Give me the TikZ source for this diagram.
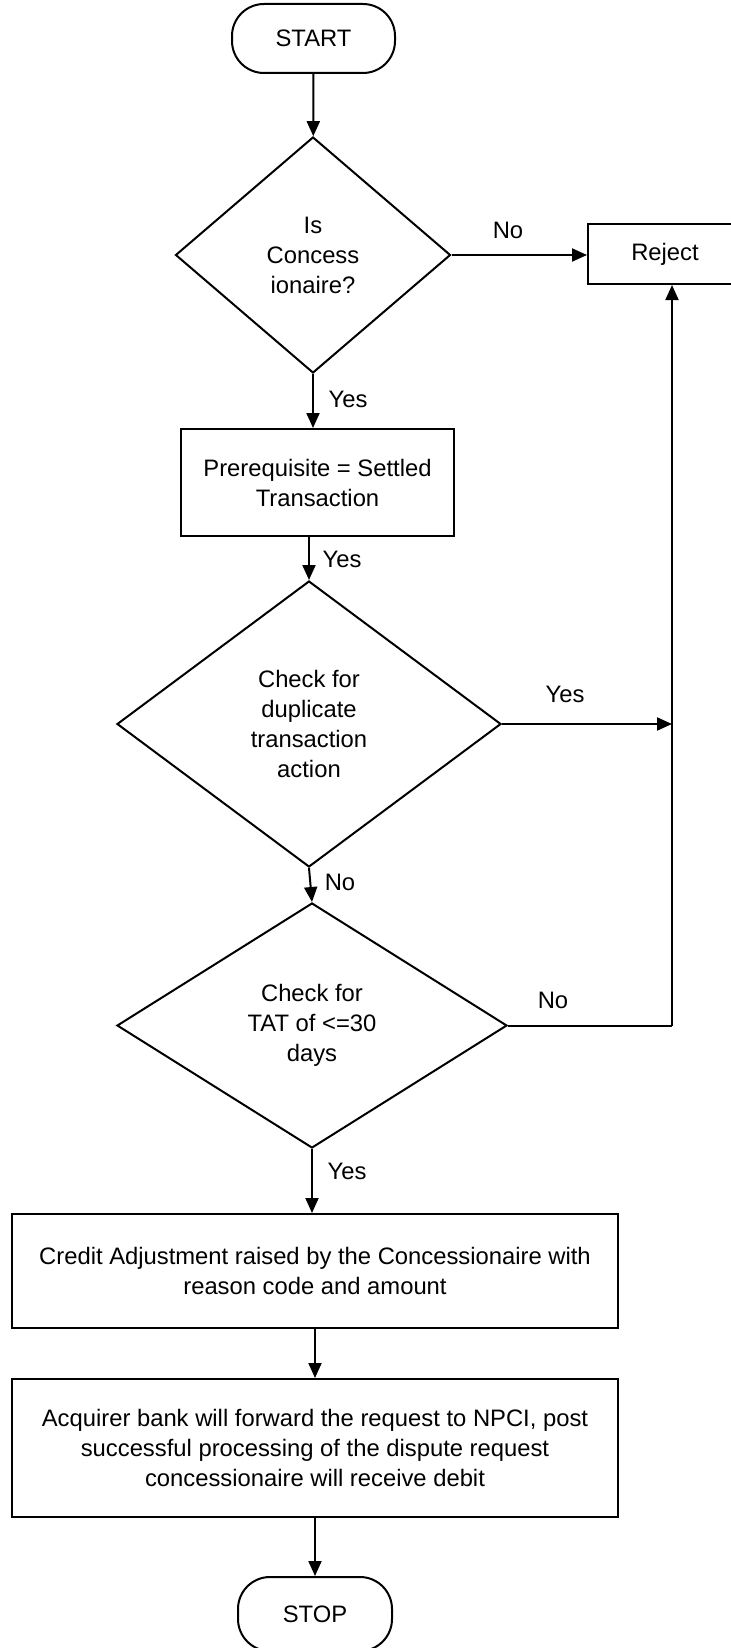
\documentclass[tikz,border=0pt]{standalone}
\usepackage{fontspec}
\setmainfont{Liberation Sans}
\usetikzlibrary{arrows.meta,shapes.geometric}
\begin{document}
\begin{tikzpicture}[x=0.5pt,y=-0.5pt,
  every node/.style={font=\fontsize{11.9}{15}\selectfont, align=center},
  base/.style={draw, line width=1pt, inner sep=0pt},
  term/.style={base, rounded corners=16pt},
  proc/.style={base, rectangle},
  decision/.style={base, diamond},
  flow/.style={line width=1pt, -{Triangle[length=7.5pt,width=6.5pt]}},
  plain/.style={line width=1pt},
  lbl/.style={inner sep=0pt}]
\useasboundingbox (0,0) rectangle (730,1648);

% main column of steps
\node[term, minimum width=81.5pt, minimum height=34.5pt] (start) at (313.5,38.5) {START};
\node[decision, minimum width=137.5pt, minimum height=118pt] (d1) at (313,255)
  {Is\\Concess\\ionaire?};
\node[proc, minimum width=77pt, minimum height=30pt] (reject) at (665,254) {Reject};
\node[proc, minimum width=136.5pt, minimum height=53.5pt] (pre) at (317.5,482.5)
  {Prerequisite = Settled\\Transaction};
\node[decision, minimum width=192pt, minimum height=143pt] (d2) at (309,724)
  {Check for\\duplicate\\transaction\\action};
\node[decision, minimum width=195pt, minimum height=122.5pt] (d3) at (312,1025.5)
  {Check for\\TAT of <=30\\days};
\node[proc, minimum width=303pt, minimum height=57pt] (credit) at (315,1271)
  {Credit Adjustment raised by the Concessionaire with\\reason code and amount};
\node[proc, minimum width=303pt, minimum height=69pt] (acq) at (315,1448)
  {Acquirer bank will forward the request to NPCI, post\\successful processing of the dispute request\\concessionaire will receive debit};
\node[term, minimum width=77pt, minimum height=37pt] (stop) at (315,1614) {STOP};

% junctions on the reject return line
\coordinate (rx) at (672,0);
\coordinate (j1) at (d2.east -| rx);
\coordinate (j2) at (d3.east -| rx);

% connectors
\draw[flow] (start) -- (d1);
\draw[flow] (d1.east) -- (d1.east -| reject.west);
\draw[flow] (d1.south) -- (d1.south |- pre.north);
\draw[flow] (d2.north |- pre.south) -- (d2.north);
\draw[flow] (d2.east) -- (j1);
\draw[flow] (d2.south) -- (d3.north);
\draw[plain] (d3.east) -- (j2);
\draw[flow] (j2) -- (j2 |- reject.south);
\draw[flow] (d3.south) -- (d3.south |- credit.north);
\draw[flow] (credit) -- (acq);
\draw[flow] (acq) -- (stop);

% branch labels
\node[lbl] (l1) at (508,230) {No};
\node[lbl] (l2) at (348,399) {Yes};
\node[lbl] (l3) at (342,559) {Yes};
\node[lbl] (l4) at (565,694) {Yes};
\node[lbl] (l5) at (340,882) {No};
\node[lbl] (l6) at (553,1000) {No};
\node[lbl] (l7) at (347,1171) {Yes};
\end{tikzpicture}
\end{document}
